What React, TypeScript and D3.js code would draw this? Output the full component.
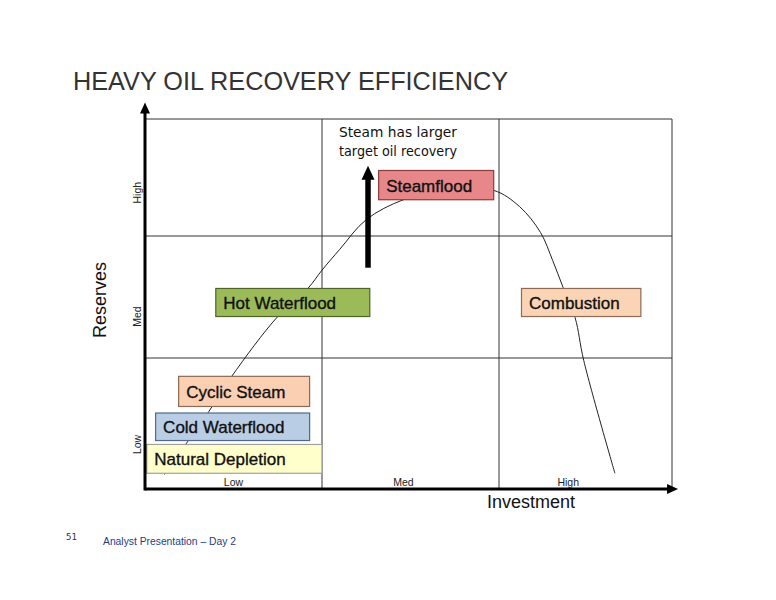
import * as d3 from "d3";

// categories on each axis
const X_TICKS = ["Low", "Med", "High"];
const Y_TICKS = ["Low", "Med", "High"];
// where the tick labels sit, in axis units
const X_TICK_POS = [0.5, 1.46, 2.4];
const Y_TICK_POS = [0.34, 1.34, 2.37];

// recovery methods: investment range, reserves range
const METHODS = [
  "Natural Depletion",
  "Cold Waterflood",
  "Cyclic Steam",
  "Hot Waterflood",
  "Steamflood",
  "Combustion",
];
const METHOD_INVEST: [number, number][] = [
  [0.01, 1.0],
  [0.06, 0.93],
  [0.19, 0.93],
  [0.4, 1.27],
  [1.32, 1.97],
  [2.13, 2.82],
];
const METHOD_RESERVES: [number, number][] = [
  [0.12, 0.34],
  [0.37, 0.58],
  [0.63, 0.86],
  [1.34, 1.57],
  [2.31, 2.56],
  [1.34, 1.57],
];
const METHOD_FILL = ["#FFFFCC", "#B9CDE5", "#FBCFB2", "#9BBB59", "#E8878A", "#FBD4B6"];
const METHOD_STROKE = ["#A0A0A0", "#50698A", "#8C6A55", "#4F6228", "#8C3A3A", "#8C6A55"];

// efficiency curve (investment, reserves)
const CURVE_X = [0.11, 0.24, 0.36, 0.49, 0.75, 0.92, 1.0, 1.1, 1.25, 1.46, 1.72, 1.97, 2.12, 2.24, 2.31, 2.37, 2.44, 2.49, 2.67];
const CURVE_Y = [0.11, 0.36, 0.59, 0.86, 1.34, 1.57, 1.72, 1.89, 2.14, 2.31, 2.4, 2.39, 2.25, 2.03, 1.8, 1.58, 1.33, 0.98, 0.12];

// "steam has larger target" arrow
const STEAM_ARROW = { x: 1.26, from: 1.74, to: 2.6 };

const W = 776;
const H = 600;

export default function App() {
  const x = d3.scaleLinear().domain([0, 1, 2, 3]).range([145, 322, 499, 672]);
  const y = d3.scaleLinear().domain([0, 1, 2, 3]).range([489, 358, 236, 119]);

  const line = d3
    .line<number>()
    .x((_, i) => x(CURVE_X[i]))
    .y((_, i) => y(CURVE_Y[i]))
    .curve(d3.curveCatmullRom.alpha(0.5));

  const gridColor = "#333";
  const ax0 = x(0);
  const ay0 = y(0);
  const xTip = x(3.035);
  const yTip = y(3.14);

  const sx = x(STEAM_ARROW.x);
  const sTop = y(STEAM_ARROW.to);
  const sBot = y(STEAM_ARROW.from);

  return (
    <svg
      width={W}
      height={H}
      style={{ position: "absolute", left: 0, top: 0, background: "#fff" }}
      fontFamily="'Liberation Sans', Arial, sans-serif"
    >
      <text x={73} y={90} fontSize={26.5} fill="#333" textLength={435} lengthAdjust="spacingAndGlyphs">
        HEAVY OIL RECOVERY EFFICIENCY
      </text>

      {/* grid */}
      <g stroke={gridColor} strokeWidth={1} fill="none">
        {[1, 2, 3].map((v) => (
          <line key={"h" + v} x1={ax0} x2={x(3)} y1={y(v)} y2={y(v)} />
        ))}
        {[1, 2, 3].map((v) => (
          <line key={"v" + v} x1={x(v)} x2={x(v)} y1={y(3)} y2={ay0} />
        ))}
      </g>

      {/* curve */}
      <path d={line(CURVE_X) ?? ""} fill="none" stroke="#222" strokeWidth={1} />

      {/* method boxes */}
      {METHODS.map((m, i) => {
        const x0 = x(METHOD_INVEST[i][0]);
        const x1 = x(METHOD_INVEST[i][1]);
        const yTop = y(METHOD_RESERVES[i][1]);
        const yBot = y(METHOD_RESERVES[i][0]);
        return (
          <g key={m}>
            <rect
              x={x0}
              y={yTop}
              width={x1 - x0}
              height={yBot - yTop}
              fill={METHOD_FILL[i]}
              stroke={METHOD_STROKE[i]}
              strokeWidth={1.2}
            />
            <text
              x={x0 + 7.5}
              y={(yTop + yBot) / 2 + 6.5}
              fontSize={17}
              fill="#111"
              stroke="#111"
              strokeWidth={0.35}
            >
              {m}
            </text>
          </g>
        );
      })}

      {/* steam arrow */}
      <line x1={sx} x2={sx} y1={sBot} y2={sTop + 12} stroke="#000" strokeWidth={5.5} />
      <path d={`M${sx},${sTop} L${sx - 6.5},${sTop + 14} L${sx + 6.5},${sTop + 14} Z`} fill="#000" />
      <text fontSize={13.5} fill="#111" fontFamily="'DejaVu Sans', Verdana, sans-serif">
        <tspan x={339} y={137} textLength={118} lengthAdjust="spacingAndGlyphs">Steam has larger</tspan>
        <tspan x={339} y={156} textLength={118} lengthAdjust="spacingAndGlyphs">target oil recovery</tspan>
      </text>

      {/* axes */}
      <line x1={ax0} x2={xTip - 8} y1={ay0} y2={ay0} stroke="#000" strokeWidth={3} />
      <path d={`M${xTip},${ay0} L${xTip - 11},${ay0 - 5} L${xTip - 11},${ay0 + 5} Z`} fill="#000" />
      <line x1={ax0} x2={ax0} y1={ay0 + 1.5} y2={yTip + 8} stroke="#000" strokeWidth={3} />
      <path d={`M${ax0},${yTip} L${ax0 - 5},${yTip + 11} L${ax0 + 5},${yTip + 11} Z`} fill="#000" />

      {/* tick labels */}
      {X_TICKS.map((t, i) => (
        <text key={"xt" + t} x={x(X_TICK_POS[i])} y={486} fontSize={10.5} fill="#222" textAnchor="middle">
          {t}
        </text>
      ))}
      {Y_TICKS.map((t, i) => (
        <text
          key={"yt" + t}
          transform={`translate(141,${y(Y_TICK_POS[i])}) rotate(-90)`}
          fontSize={10.5}
          fill="#222"
          textAnchor="middle"
        >
          {t}
        </text>
      ))}

      {/* axis titles */}
      <text transform="translate(106,300) rotate(-90)" fontSize={18} fill="#111" textAnchor="middle">
        Reserves
      </text>
      <text x={487} y={508} fontSize={18} fill="#111">
        Investment
      </text>

      {/* footer */}
      <text x={66} y={540} fontSize={9} fill="#333" fontFamily="'DejaVu Sans Mono', monospace">
        51
      </text>
      <text x={103} y={545} fontSize={10.5} fill="#1F3C88" textLength={133} lengthAdjust="spacingAndGlyphs">
        Analyst Presentation – Day 2
      </text>
    </svg>
  );
}
